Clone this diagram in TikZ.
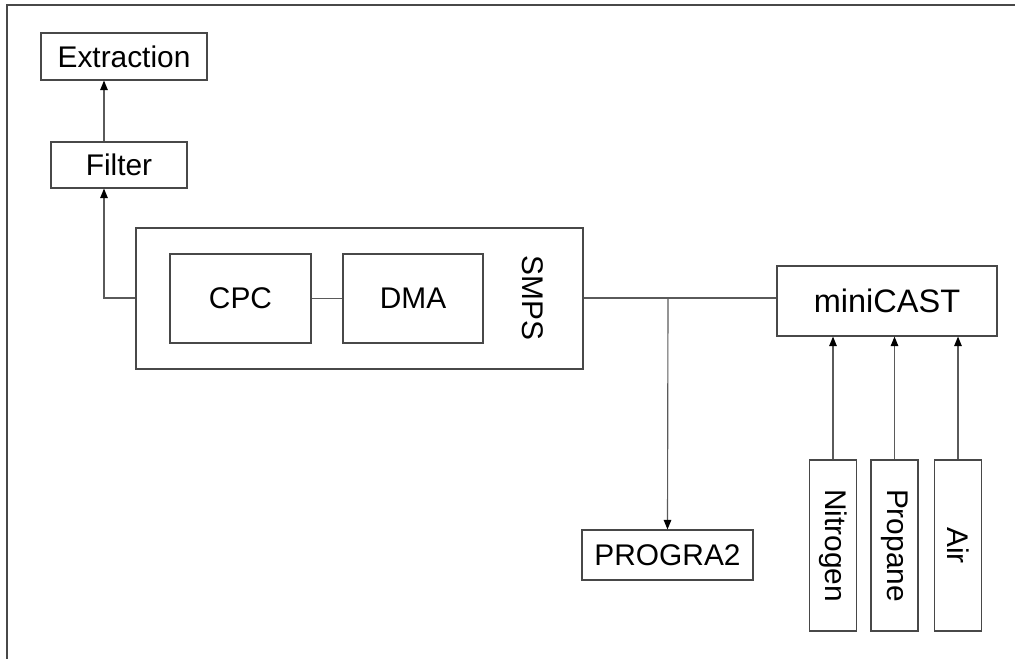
\documentclass[tikz,border=0pt]{standalone}
\usepackage{fontspec}
\setmainfont{Liberation Sans}
\usetikzlibrary{arrows.meta,positioning,calc}
\definecolor{rigline}{HTML}{484848}
\definecolor{rigwire}{HTML}{5A5A5A}
\newcommand{\rigfont}{\fontsize{17}{20}\selectfont}
\tikzset{
  unit/.style     = {draw=rigline, line width=0.65pt, rectangle, inner sep=0pt,
                     font=\rigfont, align=center},
  housing/.style  = {unit, line width=0.8pt},
  bottle/.style   = {unit, minimum width=47*0.02cm, minimum height=171*0.02cm},
  wire/.style     = {draw=rigwire, line width=0.65pt},
  feed/.style     = {wire, -{Triangle[length=1.9mm,width=1.5mm,color=black]}},
}

\begin{document}
\begin{tikzpicture}[x=0.02cm, y=-0.02cm]
  \useasboundingbox (0,0) rectangle (1015,659);

  % ---------- frame --------------------------------------------------
  \draw[draw=rigline, line width=0.8pt] (7,659) -- (7,5) -- (1015,5);

  % ---------- exhaust side -------------------------------------------
  \node[unit, minimum width=166*0.02cm, minimum height=47*0.02cm]
    (extraction) at (124,56.5) {Extraction};
  \node[unit, minimum width=136*0.02cm, minimum height=46*0.02cm]
    (filter) at (119,165) {Filter};

  % ---------- SMPS with its two instruments --------------------------
  \node[housing, minimum width=447*0.02cm, minimum height=141*0.02cm]
    (smps) at (359.5,298.5) {};
  \node[unit, minimum width=141*0.02cm, minimum height=89*0.02cm]
    (cpc) at (240.5,298.5) {CPC};
  \node[unit, minimum width=140*0.02cm, minimum height=89*0.02cm]
    (dma) at (413,298.5) {DMA};
  \node[font=\rigfont, rotate=-90, inner sep=0pt] (smpslbl) at (533,298) {SMPS};

  % ---------- soot generator and gas supply --------------------------
  \node[unit, minimum width=220*0.02cm, minimum height=70*0.02cm,
        font=\fontsize{18.5}{22}\selectfont]
    (minicast) at (887,301) {miniCAST};
  \node[bottle] (nitrogen) at (833,545.5)   {\rotatebox{-90}{Nitrogen}};
  \node[bottle] (propane)  at (894.5,545.5) {\rotatebox{-90}{Propane}};
  \node[bottle] (air)      at (958,545.5)   {\rotatebox{-90}{Air}};

  % ---------- ice nucleation chamber ---------------------------------
  \node[unit, minimum width=171*0.02cm, minimum height=50*0.02cm]
    (progra) at (667.5,555) {PROGRA2};

  % helper points on the sample line
  \coordinate (tap)   at (104,298);
  \coordinate (split) at (668,298);

  % ---------- connectors ---------------------------------------------
  \draw[wire] (cpc) -- (dma);
  \draw[feed] (smps.west |- tap) -- (tap) -- (tap |- filter.south);
  \draw[feed] (tap |- filter.north) -- (tap |- extraction.south);
  \draw[wire] (smps.east |- split) -- (split) -- (split -| minicast.west);
  \draw[feed] (split) -- (progra.north);
  \foreach \gas in {nitrogen, propane, air}
    \draw[feed] (\gas.north) -- (\gas.north |- minicast.south);

\end{tikzpicture}
\end{document}
